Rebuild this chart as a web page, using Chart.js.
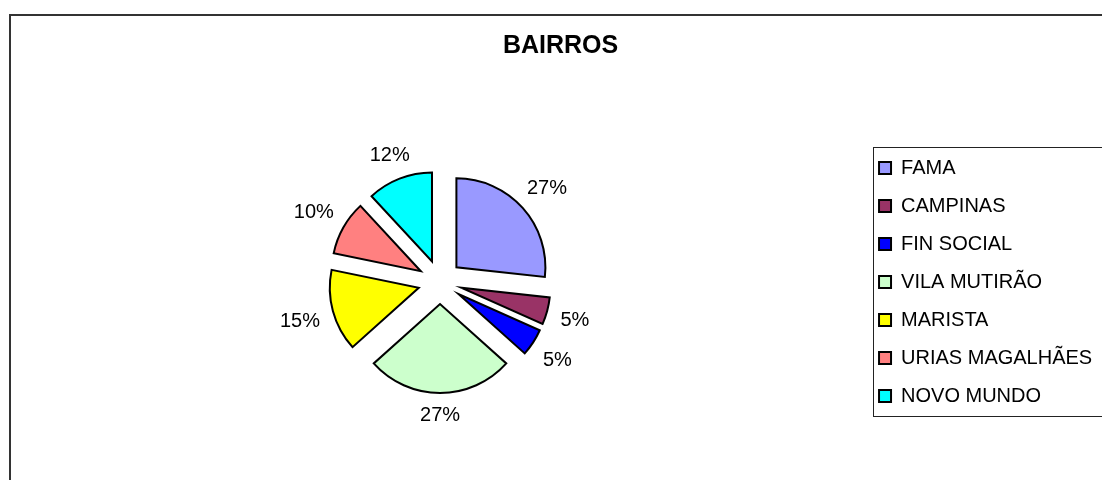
<!DOCTYPE html>
<html>
<head>
<meta charset="utf-8">
<script src="https://cdn.jsdelivr.net/npm/chart.js@4.4.0/dist/chart.umd.min.js"></script>
<style>
  html, body { margin: 0; padding: 0; background: #fff; overflow: hidden; }
  #moldura { position: absolute; left: 9px; top: 14px; width: 1120px; height: 500px; border: 2px solid #333; }
  #grafico { position: absolute; left: 0; top: 0; }
</style>
</head>
<body>
<div id="moldura"></div>
<canvas id="grafico" width="1130" height="500"></canvas>
<script>
const bairros = ["FAMA", "CAMPINAS", "FIN SOCIAL", "VILA MUTIRÃO", "MARISTA", "URIAS MAGALHÃES", "NOVO MUNDO"];
const percentuais = [27, 5, 5, 27, 15, 10, 12];
const cores = ["#9999FF", "#993366", "#0000FF", "#CCFFCC", "#FFFF00", "#FF8080", "#00FFFF"];

const FONTE = '"Liberation Sans", Arial, sans-serif';
const DESTAQUE = 22; // quanto cada fatia sai do centro (pizza explodida)

// fatia deslocada sem aumentar o raio (o offset nativo do Chart.js aumenta as fatias pequenas)
const ArcBase = Chart.ArcElement || Chart.elements.ArcElement;
class FatiaDestacada extends ArcBase {
    draw(ctx) {
        const meio = (this.startAngle + this.endAngle) / 2;
        ctx.save();
        ctx.translate(Math.cos(meio) * DESTAQUE, Math.sin(meio) * DESTAQUE);
        super.draw(ctx);
        ctx.restore();
    }
}
FatiaDestacada.id = 'fatiaDestacada';
Chart.register(FatiaDestacada);

const PieBase = Chart.PieController || Chart.controllers.pie;
class PizzaDestacada extends PieBase {}
PizzaDestacada.id = 'pizzaDestacada';
PizzaDestacada.defaults = { dataElementType: 'fatiaDestacada' };
Chart.register(PizzaDestacada);

// rótulos de porcentagem fora das fatias
const rotulosPercentuais = {
    id: 'rotulosPercentuais',
    afterDatasetsDraw(chart) {
        const ctx = chart.ctx;
        const meta = chart.getDatasetMeta(0);
        const valores = chart.data.datasets[0].data;
        const total = valores.reduce((a, b) => a + b, 0);
        ctx.save();
        ctx.font = '20px ' + FONTE;
        ctx.fillStyle = '#000';
        ctx.textAlign = 'center';
        ctx.textBaseline = 'middle';
        meta.data.forEach((arco, i) => {
            const texto = Math.round(valores[i] / total * 100) + '%';
            const meio = (arco.startAngle + arco.endAngle) / 2;
            const dx = Math.cos(meio), dy = Math.sin(meio);
            const largura = ctx.measureText(texto).width;
            const dist = arco.outerRadius + DESTAQUE + 13 + Math.abs(dx) * largura / 2 + Math.abs(dy) * 7;
            ctx.fillText(texto, arco.x + dx * dist, arco.y + dy * dist + 2);
        });
        ctx.restore();
    }
};

// moldura da legenda
const bordaLegenda = {
    id: 'bordaLegenda',
    afterDraw(chart) {
        const caixas = chart.legend.legendHitBoxes;
        if (!caixas || !caixas.length) return;
        const ultima = caixas[caixas.length - 1];
        const x = caixas[0].left - 6;
        const y = caixas[0].top - 11;
        const ctx = chart.ctx;
        ctx.save();
        ctx.strokeStyle = '#222';
        ctx.lineWidth = 1;
        ctx.strokeRect(Math.round(x) + 0.5, Math.round(y) + 0.5, chart.width - x + 10, Math.round(ultima.top + ultima.height + 10 - y));
        ctx.restore();
    }
};

new Chart(document.getElementById('grafico'), {
    type: 'pizzaDestacada',
    data: {
        labels: bairros,
        datasets: [{
            data: percentuais,
            backgroundColor: cores,
            borderColor: '#000',
            borderWidth: 2,
            borderJoinStyle: 'miter'
        }]
    },
    options: {
        responsive: false,
        maintainAspectRatio: false,
        devicePixelRatio: 1,
        animation: false,
        events: [],
        radius: 89,
        layout: {
            padding: { left: 19, right: 27.8, top: 0, bottom: 7.5 }
        },
        plugins: {
            title: {
                display: true,
                text: 'BAIRROS',
                color: '#000',
                font: { family: FONTE, size: 25, weight: 'bold' },
                padding: { top: 31.5, bottom: 10 }
            },
            legend: {
                position: 'right',
                fullSize: false,
                labels: {
                    color: '#000',
                    font: { family: FONTE, size: 20 },
                    boxWidth: 12,
                    boxHeight: 12,
                    padding: 18
                }
            },
            tooltip: { enabled: false }
        }
    },
    plugins: [rotulosPercentuais, bordaLegenda]
});
</script>
</body>
</html>
